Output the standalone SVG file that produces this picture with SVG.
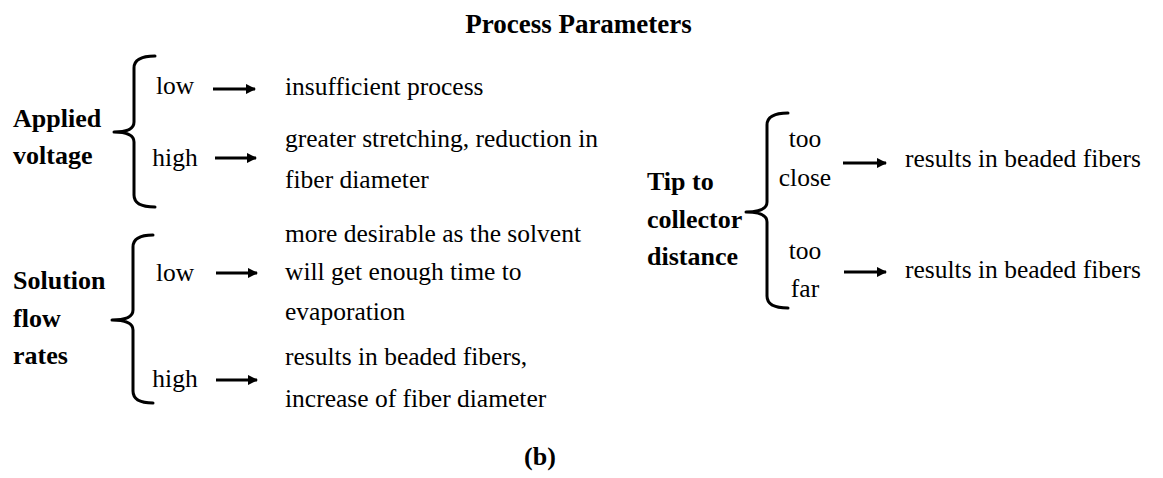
<svg xmlns="http://www.w3.org/2000/svg" width="1163" height="478" viewBox="0 0 1163 478">
<style>
.t{font-family:"Times New Roman","Liberation Serif",Tinos,"DejaVu Serif",serif;font-size:25.5px;fill:#000}
.b{font-family:"Times New Roman","Liberation Serif",Tinos,"DejaVu Serif",serif;font-size:26px;font-weight:bold;fill:#000}
.c{text-anchor:middle}
.br{fill:none;stroke:#000;stroke-width:3;stroke-linecap:round;stroke-linejoin:round}
.ar{stroke:#000;stroke-width:3;marker-end:url(#ah)}
</style>
<defs>
<marker id="ah" viewBox="0 0 10 10" refX="9" refY="5" markerWidth="3.5" markerHeight="3.5" orient="auto" markerUnits="strokeWidth">
<path d="M0,0 L10,5 L0,10 z" fill="#000"/>
</marker>
</defs>
<rect width="1163" height="478" fill="#fff"/>
<text class="b c" x="578.5" y="33" style="font-size:27px">Process Parameters</text>
<g id="applied-voltage">
<text class="b" x="13" y="127">Applied</text>
<text class="b" x="13" y="164">voltage</text>
<path class="br" d="M155,56 Q134,56 134,68 L134,122 Q134,132 114,132 Q134,132 134,142 L134,195 Q134,207 155,207"/>
<text class="t c" x="175" y="94">low</text>
<text class="t c" x="175" y="166">high</text>
<text class="t" x="285" y="95">insufficient process</text>
<text class="t" x="285" y="147">greater stretching, reduction in</text>
<text class="t" x="285" y="188">fiber diameter</text>
</g>
<g id="solution-flow-rates">
<text class="b" x="13" y="289">Solution</text>
<text class="b" x="13" y="327">flow</text>
<text class="b" x="13" y="364">rates</text>
<path class="br" d="M153,235 Q133,235 133,247 L133,310 Q133,320 112,320 Q133,320 133,330 L133,391 Q133,403 153,403"/>
<text class="t c" x="175" y="281">low</text>
<text class="t c" x="175" y="387">high</text>
<text class="t" x="285" y="242">more desirable as the solvent</text>
<text class="t" x="285" y="280">will get enough time to</text>
<text class="t" x="285" y="320">evaporation</text>
<text class="t" x="285" y="365">results in beaded fibers,</text>
<text class="t" x="285" y="407">increase of fiber diameter</text>
</g>
<g id="tip-to-collector">
<text class="b" x="647" y="190">Tip to</text>
<text class="b" x="647" y="228">collector</text>
<text class="b" x="647" y="265">distance</text>
<path class="br" d="M788,113 Q767,113 767,125 L767,202 Q767,212 746,212 Q767,212 767,222 L767,296 Q767,308 788,308"/>
<text class="t c" x="805" y="147">too</text>
<text class="t c" x="805" y="186">close</text>
<text class="t c" x="805" y="259">too</text>
<text class="t c" x="805" y="297">far</text>
<text class="t" x="905" y="167">results in beaded fibers</text>
<text class="t" x="905" y="278">results in beaded fibers</text>
</g>
<g id="connectors">
<line class="ar" x1="213" y1="89" x2="255" y2="89"/>
<line class="ar" x1="215" y1="158" x2="256" y2="158"/>
<line class="ar" x1="216" y1="273" x2="257" y2="273"/>
<line class="ar" x1="216" y1="380" x2="257" y2="380"/>
<line class="ar" x1="843" y1="163" x2="886" y2="163"/>
<line class="ar" x1="844" y1="272" x2="886" y2="272"/>
</g>
<text class="b c" x="540" y="465">(b)</text>
</svg>
